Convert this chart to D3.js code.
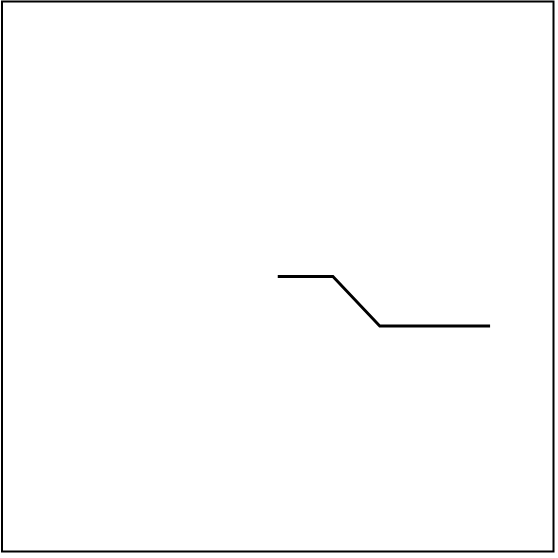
<!DOCTYPE html>
<html><head><meta charset="utf-8">
<script src="https://cdn.jsdelivr.net/npm/d3@7"></script>
<style>html,body{margin:0;padding:0;background:#fff;}svg{display:block;}</style>
</head><body>
<script>
const xValues = [50, 60, 68.5, 88.5];
const yValues = [50, 50, 41, 41];

(function () {
  const W = 558, H = 558;
  const svg = d3.select("body").append("svg").attr("width", W).attr("height", H);
  const mL = 2, mR = 553.5, mT = 1.5, mB = 551.5;
  const x = d3.scaleLinear().domain([0, 100]).range([mL, mR]);
  const y = d3.scaleLinear().domain([0, 100]).range([mB, mT]);

  svg.append("rect").attr("x", mL).attr("y", mT)
    .attr("width", mR - mL).attr("height", mB - mT)
    .attr("fill", "none").attr("stroke", "#000").attr("stroke-width", 2);

  const pts = xValues.map((v, i) => [v, yValues[i]]);
  svg.append("path").datum(pts)
    .attr("d", d3.line().x(d => x(d[0])).y(d => y(d[1])))
    .attr("fill", "none").attr("stroke", "#000").attr("stroke-width", 2.8)
    .attr("stroke-linejoin", "miter");
})();
</script>
</body></html>
